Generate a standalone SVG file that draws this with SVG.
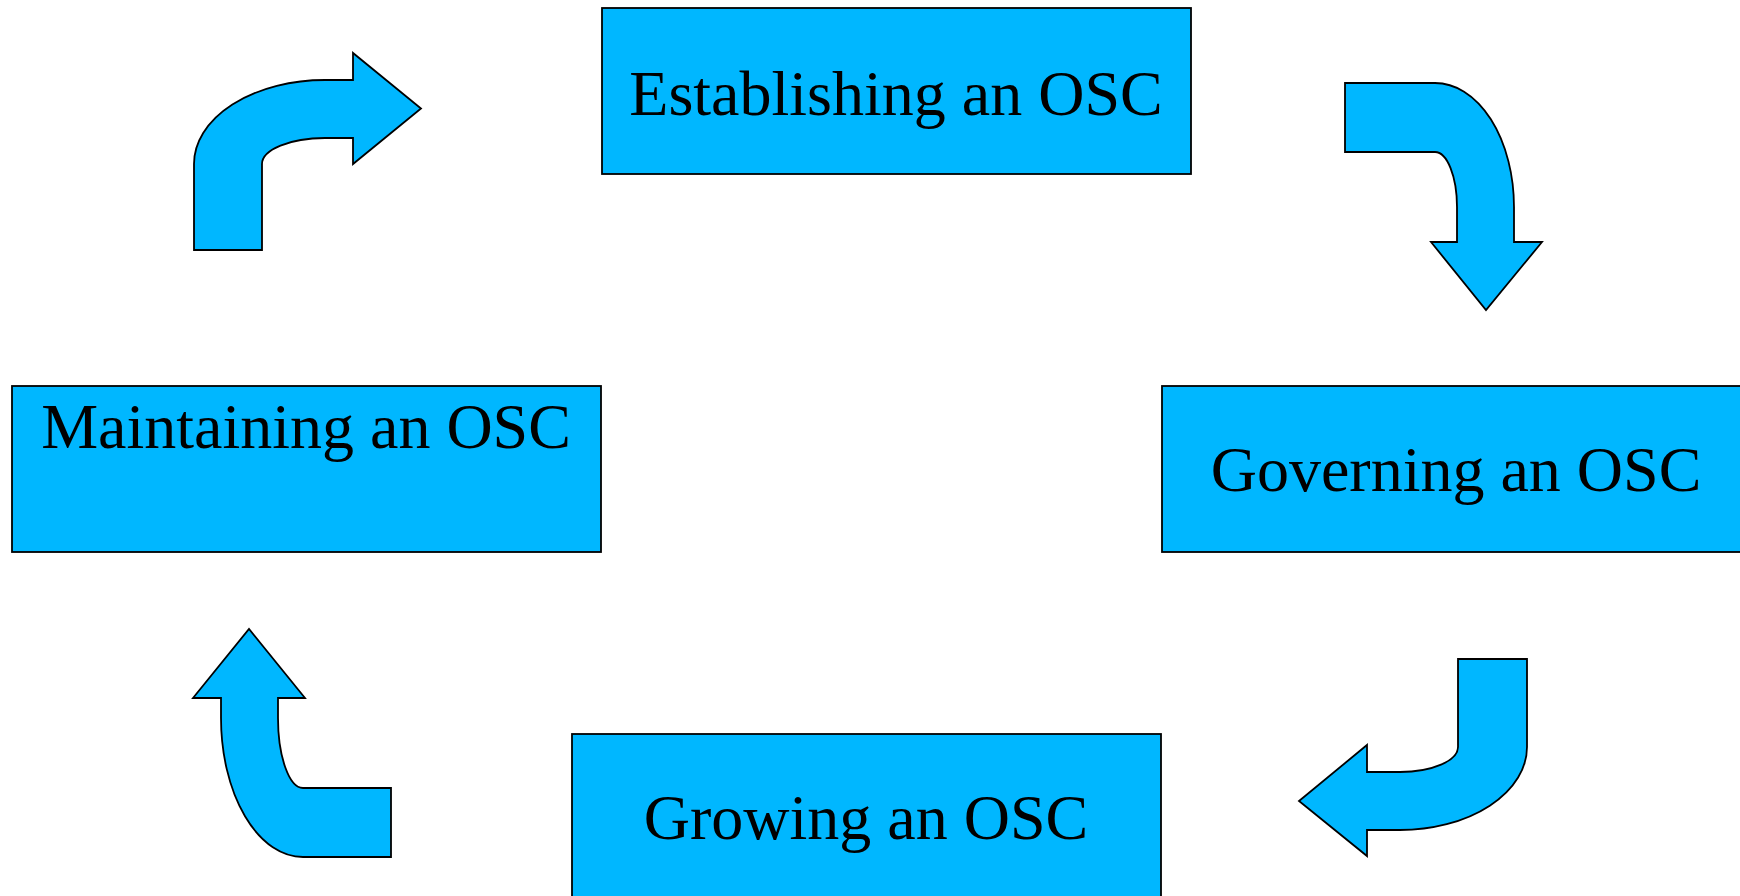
<svg xmlns="http://www.w3.org/2000/svg" width="1740" height="896" viewBox="0 0 1740 896">
<style>
.box{fill:#00B7FF;stroke:#000;stroke-width:1.8}
.arr{fill:#00B7FF;stroke:#000;stroke-width:1.8;stroke-linejoin:miter}
.lbl{font-family:"Liberation Serif","Times New Roman",serif;font-size:64px;fill:#000;text-anchor:middle}
</style>
<rect width="1740" height="896" fill="#fff"/>
<g id="connectors">
<path class="arr" d="M194,250 L194,164 A131,84 0 0 1 325,80 L353,80 L353,53 L421,108.5 L353,164 L353,138 L325,138 A63,26 0 0 0 262,164 L262,250 Z"/>
<path class="arr" d="M1345,83 L1435,83 A79,124 0 0 1 1514,207 L1514,242 L1542,242 L1486,310 L1431,242 L1457,242 L1457,207 A22,55 0 0 0 1435,152 L1345,152 Z"/>
<path class="arr" d="M1527,659 L1527,747 A127,83 0 0 1 1400,830 L1367,830 L1367,856 L1299,801 L1367,745 L1367,772 L1400,772 A58,25 0 0 0 1458,747 L1458,659 Z"/>
<path class="arr" d="M391,788 L303,788 A25,70 0 0 1 278,718 L278,698 L305,698 L249,629 L193,698 L221,698 L221,718 A82,139 0 0 0 303,857 L391,857 Z"/>
</g>
<g id="establishing">
<rect class="box" x="602" y="8" width="589" height="166"/>
<text class="lbl" x="896" y="115">Establishing an OSC</text>
</g>
<g id="governing">
<rect class="box" x="1162" y="386" width="589" height="166"/>
<text class="lbl" x="1456" y="491">Governing an OSC</text>
</g>
<g id="growing">
<rect class="box" x="572" y="734" width="589" height="166"/>
<text class="lbl" x="866" y="839">Growing an OSC</text>
</g>
<g id="maintaining">
<rect class="box" x="12" y="386" width="589" height="166"/>
<text class="lbl" x="306" y="448">Maintaining an OSC</text>
</g>
</svg>
